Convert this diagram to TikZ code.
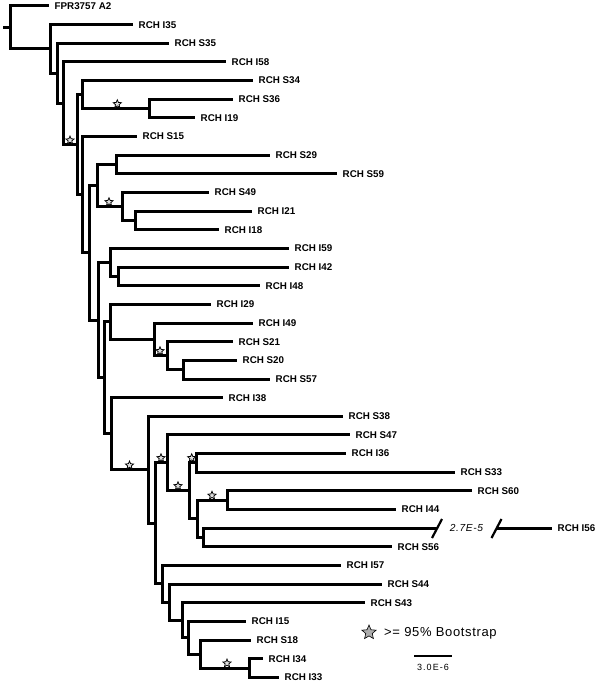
\documentclass[tikz,border=0pt]{standalone}
\usepackage{fontspec}
\setmainfont{Liberation Sans}
\usetikzlibrary{shapes.geometric}
\begin{document}
\begin{tikzpicture}[x=1pt,y=-1pt,
  br/.style={line width=3pt,line cap=butt,line join=miter},
  lab/.style={anchor=west,inner sep=0pt,xshift=5.5pt,font=\bfseries\fontsize{9.8}{11}\selectfont},
  bstar/.style={star,star points=5,star point ratio=2.2,minimum size=8.5pt,inner sep=0pt,draw=black,line width=0.75pt,fill=gray!25},
]
\useasboundingbox (0,0) rectangle (600,685);
% internal nodes
\coordinate (r0) at (3,27.49);
\coordinate (A) at (10.5,27.49);
\coordinate (B) at (50.5,48.98);
\coordinate (C) at (57,73.30);
\coordinate (D) at (63.5,103.295);
\coordinate (E) at (77,144.64);
\coordinate (F) at (82,94.59);
\coordinate (G) at (149,108.575);
\coordinate (H) at (82,194.685);
\coordinate (I) at (89,252.82);
\coordinate (J) at (97,185.51);
\coordinate (K) at (116,164.525);
\coordinate (L) at (122,206.49);
\coordinate (M) at (135,220.475);
\coordinate (N) at (98,320.13);
\coordinate (O) at (110,262.44);
\coordinate (P) at (118,276.425);
\coordinate (R) at (104,377.82);
\coordinate (Q) at (110,321.885);
\coordinate (S) at (154,339.37);
\coordinate (T) at (167,355.69);
\coordinate (U) at (183,369.675);
\coordinate (V) at (111,433.75);
\coordinate (W) at (148,469.85);
\coordinate (X) at (155,523.39);
\coordinate (Y) at (167,462.925);
\coordinate (Z) at (189.5,490.9);
\coordinate (AA) at (196,462.925);
\coordinate (BB) at (197.5,518.875);
\coordinate (DD) at (227,500.225);
\coordinate (CC) at (203,537.525);
\coordinate (EE) at (162,583.86);
\coordinate (FF) at (169,602.22);
\coordinate (GG) at (182,620.285);
\coordinate (HH) at (188,637.77);
\coordinate (II) at (200,654.09);
\coordinate (JJ) at (249,668.075);
% leaves
\coordinate (fpr) at (49,6);
\coordinate (i35) at (133,24.65);
\coordinate (s35) at (169,43.3);
\coordinate (i58) at (226,61.95);
\coordinate (s34) at (253,80.6);
\coordinate (s36) at (233,99.25);
\coordinate (i19) at (195,117.9);
\coordinate (s15) at (137,136.55);
\coordinate (s29) at (270,155.2);
\coordinate (s59) at (337,173.85);
\coordinate (s49) at (209,192.5);
\coordinate (i21) at (252,211.15);
\coordinate (i18) at (219,229.8);
\coordinate (i59) at (289,248.45);
\coordinate (i42) at (289,267.1);
\coordinate (i48) at (260,285.75);
\coordinate (i29) at (211,304.4);
\coordinate (i49) at (253,323.05);
\coordinate (s21) at (233,341.7);
\coordinate (s20) at (237,360.35);
\coordinate (s57) at (270,379);
\coordinate (i38) at (223,397.65);
\coordinate (s38) at (343,416.3);
\coordinate (s47) at (350,434.95);
\coordinate (i36) at (346,453.6);
\coordinate (s33) at (455,472.25);
\coordinate (s60) at (472,490.9);
\coordinate (i44) at (396,509.55);
\coordinate (i56a) at (437,528.2);
\coordinate (i56b) at (497,528.2);
\coordinate (i56) at (552,528.2);
\coordinate (s56) at (392,546.85);
\coordinate (i57) at (341,565.5);
\coordinate (s44) at (382,584.15);
\coordinate (s43) at (365,602.8);
\coordinate (i15) at (246,621.45);
\coordinate (s18) at (251,640.1);
\coordinate (i34) at (263,658.75);
\coordinate (i33) at (279,677.4);
% branches
\draw[br] (r0) -- (A);
\draw[br] (A) |- (fpr); \draw[br] (A) |- (B);
\draw[br] (B) |- (i35); \draw[br] (B) |- (C);
\draw[br] (C) |- (s35); \draw[br] (C) |- (D);
\draw[br] (D) |- (i58); \draw[br] (D) |- (E);
\draw[br] (E) |- (F); \draw[br] (E) |- (H);
\draw[br] (F) |- (s34); \draw[br] (F) |- (G);
\draw[br] (G) |- (s36); \draw[br] (G) |- (i19);
\draw[br] (H) |- (s15); \draw[br] (H) |- (I);
\draw[br] (I) |- (J); \draw[br] (I) |- (N);
\draw[br] (J) |- (K); \draw[br] (J) |- (L);
\draw[br] (K) |- (s29); \draw[br] (K) |- (s59);
\draw[br] (L) |- (s49); \draw[br] (L) |- (M);
\draw[br] (M) |- (i21); \draw[br] (M) |- (i18);
\draw[br] (N) |- (O); \draw[br] (N) |- (R);
\draw[br] (O) |- (i59); \draw[br] (O) |- (P);
\draw[br] (P) |- (i42); \draw[br] (P) |- (i48);
\draw[br] (R) |- (Q); \draw[br] (R) |- (V);
\draw[br] (Q) |- (i29); \draw[br] (Q) |- (S);
\draw[br] (S) |- (i49); \draw[br] (S) |- (T);
\draw[br] (T) |- (s21); \draw[br] (T) |- (U);
\draw[br] (U) |- (s20); \draw[br] (U) |- (s57);
\draw[br] (V) |- (i38); \draw[br] (V) |- (W);
\draw[br] (W) |- (s38); \draw[br] (W) |- (X);
\draw[br] (X) |- (Y); \draw[br] (X) |- (EE);
\draw[br] (Y) |- (s47); \draw[br] (Y) |- (Z);
\draw[br] (Z) |- (AA); \draw[br] (Z) |- (BB);
\draw[br] (AA) |- (i36); \draw[br] (AA) |- (s33);
\draw[br] (BB) |- (DD); \draw[br] (BB) |- (CC);
\draw[br] (DD) |- (s60); \draw[br] (DD) |- (i44);
\draw[br] (CC) |- (i56a); \draw[br] (CC) |- (s56);
\draw[br] (i56b) -- (i56);
\draw[br] (EE) |- (i57); \draw[br] (EE) |- (FF);
\draw[br] (FF) |- (s44); \draw[br] (FF) |- (GG);
\draw[br] (GG) |- (s43); \draw[br] (GG) |- (HH);
\draw[br] (HH) |- (i15); \draw[br] (HH) |- (II);
\draw[br] (II) |- (s18); \draw[br] (II) |- (JJ);
\draw[br] (JJ) |- (i34); \draw[br] (JJ) |- (i33);
% break marks
\coordinate (k1a) at (432,538); \coordinate (k1b) at (442,519);
\coordinate (k2a) at (491.5,538); \coordinate (k2b) at (501.5,519);
\draw[line width=2.2pt] (k1a) -- (k1b);
\draw[line width=2.2pt] (k2a) -- (k2b);
\node[inner sep=0pt,font=\itshape\fontsize{10.2}{12}\selectfont\addfontfeature{LetterSpace=6}] (brk) at (466.5,528.2) {2.7E-5};
% labels
\node[lab] (tfpr) at (fpr) {FPR3757 A2};
\node[lab] (ti35) at (i35) {RCH I35};
\node[lab] (ts35) at (s35) {RCH S35};
\node[lab] (ti58) at (i58) {RCH I58};
\node[lab] (ts34) at (s34) {RCH S34};
\node[lab] (ts36) at (s36) {RCH S36};
\node[lab] (ti19) at (i19) {RCH I19};
\node[lab] (ts15) at (s15) {RCH S15};
\node[lab] (ts29) at (s29) {RCH S29};
\node[lab] (ts59) at (s59) {RCH S59};
\node[lab] (ts49) at (s49) {RCH S49};
\node[lab] (ti21) at (i21) {RCH I21};
\node[lab] (ti18) at (i18) {RCH I18};
\node[lab] (ti59) at (i59) {RCH I59};
\node[lab] (ti42) at (i42) {RCH I42};
\node[lab] (ti48) at (i48) {RCH I48};
\node[lab] (ti29) at (i29) {RCH I29};
\node[lab] (ti49) at (i49) {RCH I49};
\node[lab] (ts21) at (s21) {RCH S21};
\node[lab] (ts20) at (s20) {RCH S20};
\node[lab] (ts57) at (s57) {RCH S57};
\node[lab] (ti38) at (i38) {RCH I38};
\node[lab] (ts38) at (s38) {RCH S38};
\node[lab] (ts47) at (s47) {RCH S47};
\node[lab] (ti36) at (i36) {RCH I36};
\node[lab] (ts33) at (s33) {RCH S33};
\node[lab] (ts60) at (s60) {RCH S60};
\node[lab] (ti44) at (i44) {RCH I44};
\node[lab] (ti56) at (i56) {RCH I56};
\node[lab] (ts56) at (s56) {RCH S56};
\node[lab] (ti57) at (i57) {RCH I57};
\node[lab] (ts44) at (s44) {RCH S44};
\node[lab] (ts43) at (s43) {RCH S43};
\node[lab] (ti15) at (i15) {RCH I15};
\node[lab] (ts18) at (s18) {RCH S18};
\node[lab] (ti34) at (i34) {RCH I34};
\node[lab] (ti33) at (i33) {RCH I33};
% bootstrap stars
\node[bstar] (st1) at (117.3,104) {};
\node[bstar] (st2) at (70,140.3) {};
\node[bstar] (st3) at (109,202) {};
\node[bstar] (st4) at (160,351) {};
\node[bstar] (st5) at (129.5,465.3) {};
\node[bstar] (st6) at (161,458) {};
\node[bstar] (st7) at (178,486) {};
\node[bstar] (st8) at (191.7,458) {};
\node[bstar] (st9) at (212,495.5) {};
\node[bstar] (st10) at (227,663.3) {};
% legend
\node[star,star points=5,star point ratio=2.2,minimum size=15pt,inner sep=0pt,draw=black,line width=0.6pt,fill=gray!65] (lstar) at (369,632.5) {};
\node[anchor=base west,inner sep=0pt,font=\fontsize{13}{15}\selectfont\addfontfeature{LetterSpace=5}] (ltext) at (384,636.8) {>= 95\% Bootstrap};
\coordinate (sb1) at (414,656); \coordinate (sb2) at (452,656);
\draw[line width=2pt] (sb1) -- (sb2);
\node[inner sep=0pt,font=\fontsize{9}{10}\selectfont\addfontfeature{LetterSpace=12}] (sbl) at (433,667.5) {3.0E-6};
\end{tikzpicture}
\end{document}
